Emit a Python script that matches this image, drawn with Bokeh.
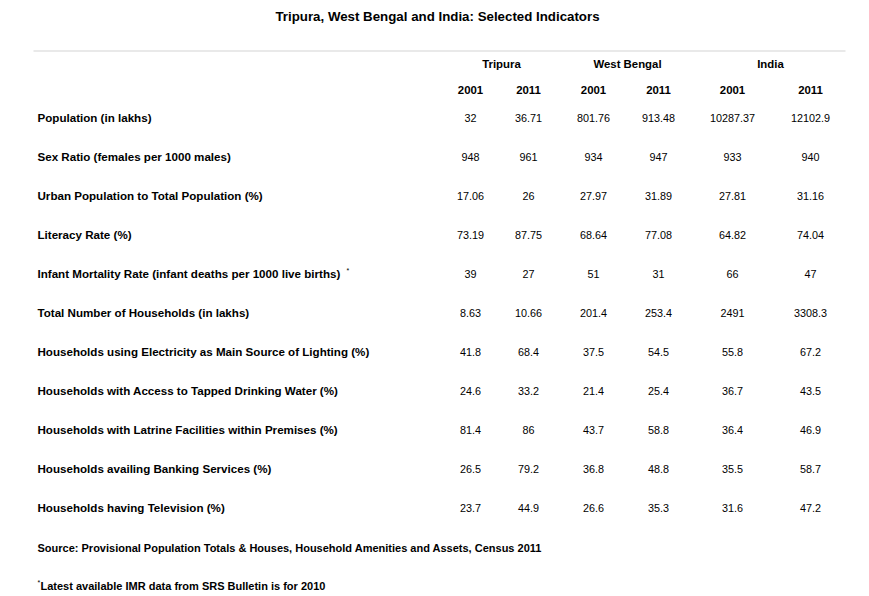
from bokeh.plotting import figure
from bokeh.models import Range1d, ColumnDataSource
from bokeh.core.properties import value
from bokeh.embed import file_html
from bokeh.resources import INLINE

title = "Tripura, West Bengal and India: Selected Indicators"
groups = ["Tripura", "West Bengal", "India"]
years = ["2001", "2011", "2001", "2011", "2001", "2011"]
indicators = [
    "Population (in lakhs)",
    "Sex Ratio (females per 1000 males)",
    "Urban Population to Total Population (%)",
    "Literacy Rate (%)",
    "Infant Mortality Rate (infant deaths per 1000 live births)",
    "Total Number of Households (in lakhs)",
    "Households using Electricity as Main Source of Lighting (%)",
    "Households with Access to Tapped Drinking Water (%)",
    "Households with Latrine Facilities within Premises (%)",
    "Households availing Banking Services (%)",
    "Households having Television (%)",
]
tripura_2001 = ["32", "948", "17.06", "73.19", "39", "8.63", "41.8", "24.6", "81.4", "26.5", "23.7"]
tripura_2011 = ["36.71", "961", "26", "87.75", "27", "10.66", "68.4", "33.2", "86", "79.2", "44.9"]
wb_2001 = ["801.76", "934", "27.97", "68.64", "51", "201.4", "37.5", "21.4", "43.7", "36.8", "26.6"]
wb_2011 = ["913.48", "947", "31.89", "77.08", "31", "253.4", "54.5", "25.4", "58.8", "48.8", "35.3"]
india_2001 = ["10287.37", "933", "27.81", "64.82", "66", "2491", "55.8", "36.7", "36.4", "35.5", "31.6"]
india_2011 = ["12102.9", "940", "31.16", "74.04", "47", "3308.3", "67.2", "43.5", "46.9", "58.7", "47.2"]
source_note = "Source: Provisional Population Totals & Houses, Household Amenities and Assets, Census 2011"
footnote = "Latest available IMR data from SRS Bulletin is for 2010"
footmark = "*"

W, H = 869, 596
p = figure(width=W, height=H, output_backend="svg", toolbar_location=None,
           x_range=Range1d(0, W), y_range=Range1d(H, 0), min_border=0)
p.axis.visible = False
p.grid.visible = False
p.outline_line_color = None
p.background_fill_color = "white"

FONT = value("Liberation Sans")
BLACK = "#000000"

# layout
col_x = [470, 528, 593, 658, 732, 810]
group_x = [501, 627, 770]
row0, row_step = 117, 39
label_x = 37

# title
p.text(x=[437], y=[16], text=[title], text_font=FONT, text_font_size="13.3px",
       text_font_style="bold", text_align="center", text_baseline="middle", text_color=BLACK)
# rule line
p.segment(x0=[33], y0=[50.5], x1=[845], y1=[50.5], line_color="#d3d3d3", line_width=1)

# group headers
p.text(x=group_x, y=[63] * 3, text=groups, text_font=FONT,
       text_font_size="11.4px", text_font_style="bold", text_align="center",
       text_baseline="middle", text_color=BLACK)
# year headers
p.text(x=col_x, y=[89] * 6, text=years, text_font=FONT,
       text_font_size="11.4px", text_font_style="bold", text_align="center",
       text_baseline="middle", text_color=BLACK)

# row labels
ys = [row0 + i * row_step for i in range(len(indicators))]
p.text(x=[label_x] * len(indicators), y=ys, text=indicators, text_font=FONT,
       text_font_size="11.6px", text_font_style="bold", text_align="left",
       text_baseline="middle", text_color=BLACK)
# superscript mark on IMR label
p.text(x=[346], y=[ys[4] - 3], text=[footmark], text_font=FONT, text_font_size="7px",
       text_align="left", text_baseline="middle", text_color=BLACK)

# data cells
series = [tripura_2001, tripura_2011, wb_2001, wb_2011, india_2001, india_2011]
xs, yy, tt = [], [], []
for c, s in enumerate(series):
    for r, v in enumerate(s):
        xs.append(col_x[c])
        yy.append(ys[r])
        tt.append(v)
src = ColumnDataSource(dict(x=xs, y=yy, t=tt))
p.text(x="x", y="y", text="t", source=src, text_font=FONT, text_font_size="10.8px",
       text_align="center", text_baseline="middle", text_color=BLACK)

# notes
p.text(x=[label_x], y=[547], text=[source_note], text_font=FONT, text_font_size="11px",
       text_font_style="bold", text_align="left", text_baseline="middle", text_color=BLACK)
p.text(x=[label_x], y=[582], text=[footmark], text_font=FONT, text_font_size="7px",
       text_align="left", text_baseline="middle", text_color=BLACK)
p.text(x=[label_x + 3], y=[585], text=[footnote], text_font=FONT, text_font_size="11px",
       text_font_style="bold", text_align="left", text_baseline="middle", text_color=BLACK)

open("out.html", "w").write(file_html(p, INLINE))
